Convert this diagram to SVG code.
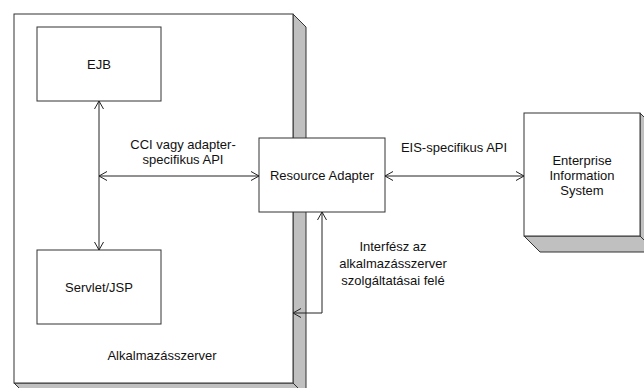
<svg xmlns="http://www.w3.org/2000/svg" width="644" height="388" viewBox="0 0 644 388">
<style>
.face{fill:#fff;stroke:#333;stroke-width:1}
.side{fill:#c0c0c0;stroke:#333;stroke-width:1;stroke-linejoin:round}
.box{fill:#fff;stroke:#333;stroke-width:1}
.lbl{font-family:"Liberation Sans",Arial,sans-serif;font-size:13px;fill:#111;text-anchor:middle}
.conn{fill:none;stroke:#222;stroke-width:1;marker-start:url(#ah);marker-end:url(#ah)}
</style>
<defs>
<marker id="ah" markerUnits="userSpaceOnUse" markerWidth="12" markerHeight="12" refX="8" refY="5" orient="auto-start-reverse" viewBox="0 0 12 10">
<path d="M0,0.5 L8,5 L0,9.5" fill="none" stroke="#222" stroke-width="1"/>
</marker>
</defs>
<rect width="644" height="388" fill="#fff"/>
<g id="alkalmazasszerver">
<polygon class="side" points="293,14 306,27 306,396 293,383"/>
<polygon class="side" points="14,383 27,396 306,396 293,383"/>
<rect class="face" x="14" y="14" width="279" height="369"/>
<text class="lbl" x="162" y="360">Alkalmazásszerver</text>
</g>
<g id="ejb">
<rect class="box" x="37" y="27" width="124" height="74"/>
<text class="lbl" x="99" y="69">EJB</text>
</g>
<g id="servlet">
<rect class="box" x="37" y="250" width="124" height="74"/>
<text class="lbl" x="99" y="292">Servlet/JSP</text>
</g>
<g id="resource-adapter">
<rect class="box" x="259" y="138" width="126" height="74"/>
<text class="lbl" x="322" y="180">Resource Adapter</text>
</g>
<g id="eis">
<polygon class="side" points="640,113 656,129 656,252 640,236"/>
<polygon class="side" points="524,236 540,252 656,252 640,236"/>
<rect class="face" x="524" y="113" width="116" height="123"/>
<text class="lbl" x="582" y="165">Enterprise</text>
<text class="lbl" x="582" y="180">Information</text>
<text class="lbl" x="582" y="195">System</text>
</g>
<g id="connectors">
<path class="conn" d="M99,101 L99,250"/>
<path class="conn" d="M99,176 L259,176"/>
<path class="conn" d="M385,176 L524,176"/>
<path class="conn" d="M322,212 L322,313 L293,313"/>
<text class="lbl" x="183" y="149">CCI vagy adapter-</text>
<text class="lbl" x="183" y="164">specifikus API</text>
<text class="lbl" x="454" y="152">EIS-specifikus API</text>
<text class="lbl" x="393" y="251">Interfész az</text>
<text class="lbl" x="393" y="268">alkalmazásszerver</text>
<text class="lbl" x="393" y="285">szolgáltatásai felé</text>
</g>
</svg>
